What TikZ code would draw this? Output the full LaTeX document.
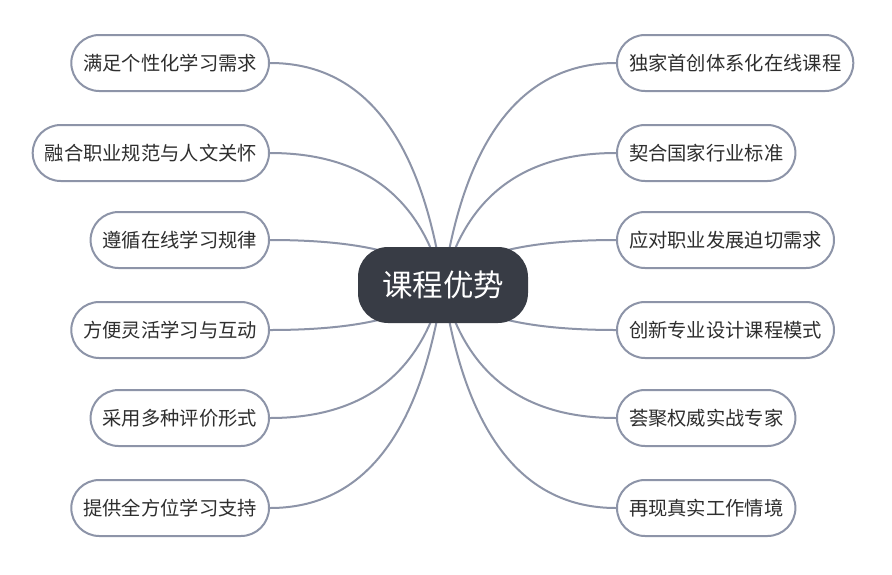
\documentclass[tikz,border=0pt]{standalone}
\usepackage{fontspec}
\setmainfont{Noto Sans CJK SC}
\usetikzlibrary{calc}
\pgfdeclarelayer{bg}
\pgfsetlayers{bg,main}
\definecolor{edgecol}{HTML}{8D94A8}
\definecolor{hubcol}{HTML}{383C45}
\definecolor{ink}{HTML}{2E2E2E}
\begin{document}
\begin{tikzpicture}[x=1pt,y=-1pt,
 leaf/.style={draw=edgecol, line width=2pt, rounded corners=28pt, minimum height=56pt, inner xsep=12pt, inner ysep=0pt, text=ink, font=\fontsize{19.3}{19}\selectfont, fill=white},
 hub/.style={fill=hubcol, rounded corners=30pt, minimum width=170pt, minimum height=76pt, text=white, font=\fontsize{30.5}{30}\selectfont},
 link/.style={draw=edgecol, line width=2pt}]
\useasboundingbox (0,0) rectangle (892,574);
\node[hub] (c) at (443,285) {课程优势};
\coordinate (c0) at (443,285);
\node[leaf, anchor=east] (L1) at (270,63) {满足个性化学习需求};
\node[leaf, anchor=east] (L2) at (270,153) {融合职业规范与人文关怀};
\node[leaf, anchor=east] (L3) at (270,240) {遵循在线学习规律};
\node[leaf, anchor=east] (L4) at (270,330) {方便灵活学习与互动};
\node[leaf, anchor=east] (L5) at (270,418) {采用多种评价形式};
\node[leaf, anchor=east] (L6) at (270,508) {提供全方位学习支持};
\node[leaf, anchor=west] (R1) at (616,63) {独家首创体系化在线课程};
\node[leaf, anchor=west] (R2) at (616,153) {契合国家行业标准};
\node[leaf, anchor=west] (R3) at (616,240) {应对职业发展迫切需求};
\node[leaf, anchor=west] (R4) at (616,330) {创新专业设计课程模式};
\node[leaf, anchor=west] (R5) at (616,418) {荟聚权威实战专家};
\node[leaf, anchor=west] (R6) at (616,508) {再现真实工作情境};
\begin{pgfonlayer}{bg}
\fill[white] (0,0) rectangle (892,574);
\foreach \n/\a in {L1/east,L2/east,L3/east,L4/east,L5/east,L6/east,R1/west,R2/west,R3/west,R4/west,R5/west,R6/west}{
  \path ($(c0)!0.19!(\n.\a)$) coordinate (k);
  \path (k |- \n.\a) coordinate (q);
  \draw[link] (c0) .. controls ($(c0)!0.6667!(q)$) and ($(\n.\a)!0.6667!(q)$) .. (\n.\a);
}
\end{pgfonlayer}
\end{tikzpicture}
\end{document}
